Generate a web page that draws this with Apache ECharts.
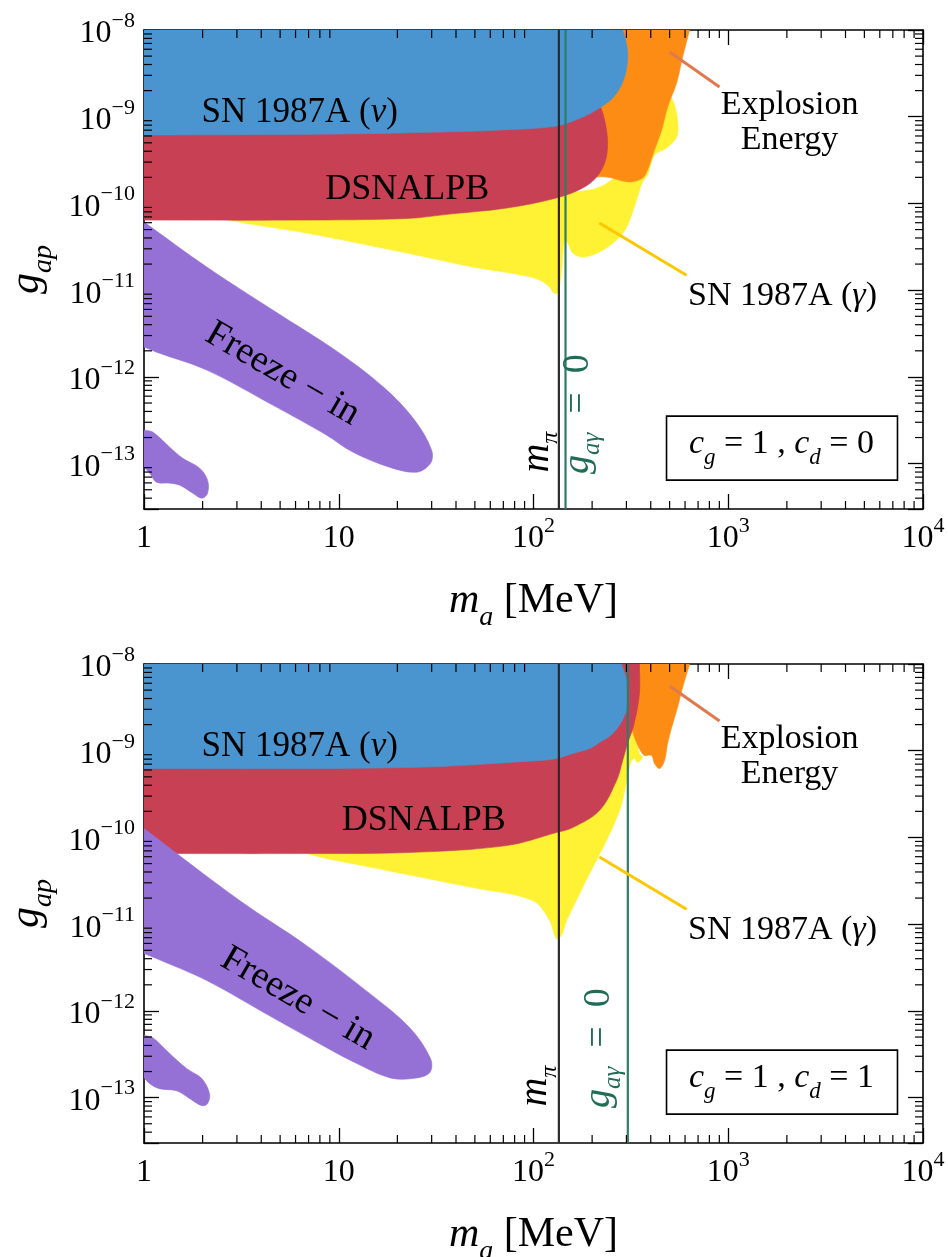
<!DOCTYPE html>
<html><head><meta charset="utf-8">
<script src="https://cdn.jsdelivr.net/npm/echarts@6/dist/echarts.min.js"></script>
<style>html,body{margin:0;padding:0;background:#fff;overflow:hidden}#c{width:948px;height:1257px}</style>
</head><body><div id="c"></div>
<script>
// ---------- axes ----------
const xRange = [1, 1e4];
const yRange = [3e-14, 1e-8];
const xMajorTicks = [1, 10, 100, 1000, 10000];
const yMajorTicks = [1e-13, 1e-12, 1e-11, 1e-10, 1e-9, 1e-8];
const minorMultipliers = [2, 3, 4, 5, 6, 7, 8, 9];
const xDecades = [1, 10, 100, 1000];
const yDecades = [1e-14, 1e-13, 1e-12, 1e-11, 1e-10, 1e-9];

// ---------- panel 1 : c_g = 1, c_d = 0 ----------
const topSnNu = [[1,1e-8],[287,1e-8],[301,6.71e-9],[304,4.51e-9],[290,2.65e-9],[258,1.69e-9],[218,1.26e-9],[179,9.92e-10],[131,7.81e-10],[67,7.02e-10],[33,6.66e-10],[10.1,6.32e-10],[1,6.15e-10]];
const topDsnalpb = [[1,8.02e-10],[20.5,8.02e-10],[136,9.66e-10],[213,1.36e-9],[224,1.195e-9],[237,7.02e-10],[240,4.47e-10],[232,2.92e-10],[211,2.02e-10],[179,1.51e-10],[131,1.155e-10],[72.8,8.85e-11],[37.1,7.54e-11],[22.3,6.7e-11],[6.3,6.43e-11],[1,6.43e-11]];
const topExplosion = [[136,1e-8],[633,1e-8],[583,4.88e-9],[543,2.45e-9],[488,1.29e-9],[455,7.02e-10],[418,4.13e-10],[385,2.43e-10],[363,1.96e-10],[311,1.77e-10],[237,2.02e-10],[194,1.96e-10],[163,1.63e-10],[136,4.13e-10]];
const topSnGamma = [[2.69,7.35e-11],[194,1.43e-10],[350,4.13e-10],[444,1.56e-9],[482,1.78e-9],[518,1.56e-9],[549,9.16e-10],[543,5.83e-10],[482,4.36e-10],[418,3.61e-10],[385,2.13e-10],[363,1.77e-10],[338,1.09e-10],[301,5.34e-11],[267,3.78e-11],[218,2.75e-11],[179,2.41e-11],[159,2.68e-11],[150,3.49e-11],[144,3.78e-11],[139,1.575e-11],[133,9.26e-12],[127,9.26e-12],[121,1.086e-11],[107.5,1.31e-11],[87.9,1.49e-11],[48.7,1.85e-11],[22.3,2.68e-11],[6.84,4.56e-11],[2.75,6.43e-11]];
const topFreezeIn = [[1,6.10e-11],[2.10,1.85e-11],[4.58,5.90e-12],[10.1,1.88e-12],[17.2,7.43e-13],[24.5,3.18e-13],[30.0,1.43e-13],[29.6,1.01e-13],[25.2,7.98e-14],[18.2,9.11e-14],[11.8,1.36e-13],[8.67,2.13e-13],[4.58,4.73e-13],[2.10,1.20e-12],[1.16,1.93e-12],[1,2.21e-12]];
const topFreezeInLow = [[1,2.43e-13],[1.11,2.31e-13],[1.355,1.55e-13],[1.58,1.157e-13],[1.93,8.87e-14],[2.12,6.45e-14],[2.12,4.57e-14],[1.98,4.0e-14],[1.78,4.57e-14],[1.525,5.65e-14],[1.355,5.96e-14],[1.16,6.12e-14],[1.07,7.77e-14],[1,9.11e-14]];
const topPionMass = 135;
const topGagZero = 146;

// ---------- panel 2 : c_g = 1, c_d = 1 ----------
const botSnNu = [[1,1e-8],[283,1e-8],[301,6.45e-9],[304,4.11e-9],[294,2.55e-9],[255,1.58e-9],[218,1.243e-9],[194,1.06e-9],[159,9.28e-10],[131,8.13e-10],[107.5,7.71e-10],[22.3,6.40e-10],[1,6.23e-10]];
const botDsnalpb = [[1,7.71e-10],[107.5,9.53e-10],[218,3.79e-9],[277,1e-8],[350,1e-8],[350,4.57e-9],[327,1.95e-9],[304,1.21e-9],[287,7.71e-10],[267,4.53e-10],[218,2.04e-10],[159,1.30e-10],[131,1.139e-10],[72.8,8.06e-11],[22.3,6.69e-11],[6.84,6.52e-11],[1,6.52e-11]];
const botExplosion = [[311,1e-8],[633,1e-8],[583,5.36e-9],[549,3.15e-9],[512,1.85e-9],[488,1.21e-9],[471,7.71e-10],[444,6.23e-10],[418,7.11e-10],[404,8.80e-10],[372,8.80e-10],[359,9.53e-10],[338,1.243e-9],[323,1.71e-9],[311,3.79e-9]];
const botSnGamma = [[6.30,7.85e-11],[107.5,1.139e-10],[218,3.47e-10],[311,1.80e-9],[323,1.71e-9],[350,9.28e-10],[363,8.35e-10],[342,7.31e-10],[330,8.13e-10],[319,7.71e-10],[308,5.91e-10],[294,3.47e-10],[277,2.04e-10],[237,9.21e-11],[194,3.83e-11],[166,1.87e-11],[148,1.10e-11],[139,7.39e-12],[131,6.82e-12],[121,1.10e-11],[98.9,1.87e-11],[48.7,2.64e-11],[14.9,4.50e-11],[6.84,6.52e-11]];
const botFreezeIn = [[1,1.267e-10],[3.10,1.87e-11],[6.84,5.66e-12],[14.9,1.50e-12],[23.1,6.42e-13],[29.6,2.82e-13],[29.3,1.94e-13],[23.9,1.66e-13],[18.2,1.70e-13],[12.4,2.47e-13],[8.67,3.77e-13],[4.58,8.37e-13],[2.10,2.24e-12],[1.16,4.01e-12],[1,4.58e-12]];
const botFreezeInLow = [[1,5.19e-13],[1.11,4.92e-13],[1.355,3.22e-13],[1.66,2.16e-13],[1.98,1.66e-13],[2.17,1.11e-13],[2.12,8.53e-14],[1.98,8.09e-14],[1.72,9.74e-14],[1.47,1.20e-13],[1.20,1.27e-13],[1.07,1.45e-13],[1,1.70e-13]];
const botPionMass = 135;
const botGagZero = 305;

// leader lines (same in both panels)
const explosionLeader = [[500,5.57e-9],[902,2.20e-9]];
const gammaLeader = [[218,5.94e-11],[611,1.49e-11]];

const couplings = [{cg: 1, cd: 0}, {cg: 1, cd: 1}];

// ---------- styles / layout ----------
const FONT = '"Liberation Serif","DejaVu Serif","Times New Roman",serif';
const COL = {blue:'#4a95cf', red:'#c84053', orange:'#fd8c14', yellow:'#fff133', purple:'#9571d6',
  pion:'#2b2b2b', gag:'#2e7d67', gagText:'#1f6d55', expLine:'#e0794c', gamLine:'#fbc800'};

const annot = [
  {snNu:[6.3,1.10e-9], dsnalpb:[22.5,1.43e-10], explosion:[2065,8.57e-10], snGamma:[1900,8.55e-12],
   freeze:[5.15,1.08e-12], mPi:[108,1.36e-13], gZero:[178,3.72e-13], box:[[482,3.53e-13],[7396,6.45e-14]], boxText:[1875,1.51e-13]},
  {snNu:[6.3,1.10e-9], dsnalpb:[27.3,1.57e-10], explosion:[2065,8.5e-10], snGamma:[1900,8.55e-12],
   freeze:[6.16,1.38e-12], mPi:[106,1.36e-13], gZero:[228,3.72e-13], box:[[482,3.53e-13],[7396,6.45e-14]], boxText:[1875,1.51e-13]}
];

const panels = [
  {nu:topSnNu, ds:topDsnalpb, ex:topExplosion, ga:topSnGamma, fr:topFreezeIn, fr2:topFreezeInLow, mpi:topPionMass, g0:topGagZero},
  {nu:botSnNu, ds:botDsnalpb, ex:botExplosion, ga:botSnGamma, fr:botFreezeIn, fr2:botFreezeInLow, mpi:botPionMass, g0:botGagZero}
];

const xMinor = [], yMinor = [];
xDecades.forEach(d => minorMultipliers.forEach(m => xMinor.push(d*m)));
yDecades.forEach(d => minorMultipliers.forEach(m => { const v = d*m; if (v > yRange[0]*1.001 && v < yRange[1]) yMinor.push(v); }));

function isPow10(v){ const l = Math.log10(v); return Math.abs(l - Math.round(l)) < 1e-6; }
const labelRich = {
  b: {fontFamily: FONT, fontSize: 32, lineHeight: 40, verticalAlign: 'bottom', color: '#000'},
  s: {fontFamily: FONT, fontSize: 22, lineHeight: 22, verticalAlign: 'top', color: '#000'}
};
function fmtX(v){ if (!isPow10(v)) return ''; const e = Math.round(Math.log10(v)); if (e===0) return '{b|1}'; if (e===1) return '{b|10}'; return '{b|10}{s|' + e + '}'; }
function fmtY(v){ if (!isPow10(v)) return ''; const e = Math.round(Math.log10(v)); return '{b|10}{s|' + String(e).replace('-', '\u2212') + '}'; }

const grids = [
  {left:144, top:30, width:779, height:479, containLabel:false, outerBoundsMode:'none'},
  {left:144, top:664, width:779, height:479, containLabel:false, outerBoundsMode:'none'}
];

const xAxes = [], yAxes = [];
const axisLineStyle = {color:'#000', width:1.6};
grids.forEach((g, gi) => {
  [ 'bottom', 'top' ].forEach(pos => xAxes.push({
    type:'log', logBase:10, gridIndex:gi, position:pos, min:xRange[0], max:xRange[1],
    axisLine:{show:true, onZero:false, lineStyle:axisLineStyle},
    axisTick:{show:true, inside:true, length:15, lineStyle:{color:'#000', width:1.3}},
    splitLine:{show:false},
    axisLabel:{show: pos==='bottom', formatter: fmtX, margin: 6, rich: labelRich},
    name: pos==='bottom' ? '{i|m}{sub|a}{r| [MeV]}' : '',
    nameLocation:'middle', nameGap: 71,
    nameTextStyle:{rich:{
      i:{fontFamily:FONT, fontStyle:'italic', fontSize:42, lineHeight:52, verticalAlign:'top', color:'#000'},
      sub:{fontFamily:FONT, fontStyle:'italic', fontSize:28, lineHeight:26, verticalAlign:'bottom', color:'#000'},
      r:{fontFamily:FONT, fontSize:42, lineHeight:52, verticalAlign:'top', color:'#000'}}}
  }));
  [ 'left', 'right' ].forEach(pos => yAxes.push({
    type:'log', logBase:10, gridIndex:gi, position:pos, min:yRange[0], max:yRange[1],
    axisLine:{show:true, onZero:false, lineStyle:axisLineStyle},
    axisTick:{show:true, inside:true, length:15, lineStyle:{color:'#000', width:1.3}},
    splitLine:{show:false},
    axisLabel:{show: pos==='left', formatter: fmtY, margin: 9, rich: labelRich},
    name: pos==='left' ? '{i|g}{sub|ap}' : '',
    nameLocation:'middle', nameGap: 86,
    nameTextStyle:{rich:{
      i:{fontFamily:FONT, fontStyle:'italic', fontSize:42, lineHeight:52, verticalAlign:'top', color:'#000'},
      sub:{fontFamily:FONT, fontStyle:'italic', fontSize:28, lineHeight:26, verticalAlign:'bottom', color:'#000'}}}
  }));
});

const series = [];
function axisIdx(gi){ return {xAxisIndex: gi*2, yAxisIndex: gi*2}; }
function onFrame(p){
  return Math.abs(p[0]-xRange[0]) < 1e-9 || Math.abs(p[0]-xRange[1]) < 1e-6 ||
         Math.abs(p[1]/yRange[1]-1) < 1e-6 || Math.abs(p[1]/yRange[0]-1) < 1e-6;
}
function poly(pts, color, gi){
  series.push(Object.assign({type:'custom', clip:true, silent:true, data: pts,
    renderItem: (params, api) => {
      if (params.dataIndex !== 0) return null;
      const px = [];
      pts.forEach(p => { const c = api.coord(p); px.push(c); if (onFrame(p)) px.push([c[0], c[1]]); });
      return {type:'polygon', shape:{points: px, smooth: 0.35},
        style:{fill: color, stroke: color, lineWidth: 0.6}};
    }}, axisIdx(gi)));
}
function vline(v, color, gi){
  series.push(Object.assign({type:'custom', clip:true, silent:true, data:[[v, yRange[0]]],
    renderItem: (params, api) => { const a = api.coord([v, yRange[0]]), b = api.coord([v, yRange[1]]);
      return {type:'line', shape:{x1:a[0], y1:a[1], x2:b[0], y2:b[1]}, style:{stroke:color, lineWidth:2.2}}; }}, axisIdx(gi)));
}
function seg(pts, color, gi){
  series.push(Object.assign({type:'custom', clip:true, silent:true, data: pts,
    renderItem: (params, api) => { if (params.dataIndex !== 0) return null; const a = api.coord(pts[0]), b = api.coord(pts[1]);
      return {type:'line', shape:{x1:a[0], y1:a[1], x2:b[0], y2:b[1]}, style:{stroke:color, lineWidth:3}}; }}, axisIdx(gi)));
}
function text(pos, txt, gi, opt){
  series.push(Object.assign({type:'custom', clip:false, silent:true, data:[pos],
    renderItem: (params, api) => { const p = api.coord(pos);
      return {type:'text', x:p[0], y:p[1], rotation: opt.rotation || 0, z2: 10,
        style:{text: txt, fill: opt.color || '#000', fontFamily: FONT, fontSize: opt.size, fontStyle: opt.italic ? 'italic' : 'normal',
          align:'center', verticalAlign:'middle', lineHeight: opt.lineHeight, rich: opt.rich}}; }}, axisIdx(gi)));
}
function box(corners, gi){
  series.push(Object.assign({type:'custom', clip:false, silent:true, data: corners,
    renderItem: (params, api) => { if (params.dataIndex !== 0) return null; const a = api.coord(corners[0]), b = api.coord(corners[1]);
      return {type:'rect', shape:{x:a[0], y:a[1], width:b[0]-a[0], height:b[1]-a[1]}, style:{fill:'#fff', stroke:'#000', lineWidth:1.6}}; }}, axisIdx(gi)));
}
function minorTicks(gi){
  series.push(Object.assign({type:'custom', clip:false, silent:true, data: xMinor.map(v => [v, yRange[0]]),
    renderItem: (params, api) => { const v = api.value(0); const a = api.coord([v, yRange[0]]), b = api.coord([v, yRange[1]]);
      const st = {stroke:'#000', lineWidth:1.2};
      return {type:'group', children:[
        {type:'line', shape:{x1:a[0], y1:a[1], x2:a[0], y2:a[1]-8}, style:st},
        {type:'line', shape:{x1:b[0], y1:b[1], x2:b[0], y2:b[1]+8}, style:st}]}; }}, axisIdx(gi)));
  series.push(Object.assign({type:'custom', clip:false, silent:true, data: yMinor.map(v => [xRange[0], v]),
    renderItem: (params, api) => { const v = api.value(1); const a = api.coord([xRange[0], v]), b = api.coord([xRange[1], v]);
      const st = {stroke:'#000', lineWidth:1.2};
      return {type:'group', children:[
        {type:'line', shape:{x1:a[0], y1:a[1], x2:a[0]+8, y2:a[1]}, style:st},
        {type:'line', shape:{x1:b[0], y1:b[1], x2:b[0]-8, y2:b[1]}, style:st}]}; }}, axisIdx(gi)));
}

const subRich = (size, subScale, drop) => {
  const ss = Math.round(size*(subScale || 0.68));
  const lh = size + (drop || 8);
  return {
    i:{fontFamily:FONT, fontStyle:'italic', fontSize:size, lineHeight:lh, verticalAlign:'top'},
    u:{fontFamily:FONT, fontSize:size, lineHeight:lh, verticalAlign:'top'},
    sub:{fontFamily:FONT, fontStyle:'italic', fontSize:ss, lineHeight:ss, verticalAlign:'bottom'},
    subu:{fontFamily:FONT, fontSize:ss, lineHeight:ss, verticalAlign:'bottom'}
  };
};

panels.forEach((P, gi) => {
  const A = annot[gi];
  poly(P.ga, COL.yellow, gi);
  poly(P.ex, COL.orange, gi);
  poly(P.ds, COL.red, gi);
  poly(P.nu, COL.blue, gi);
  poly(P.fr, COL.purple, gi);
  poly(P.fr2, COL.purple, gi);
  vline(P.mpi, COL.pion, gi);
  vline(P.g0, COL.gag, gi);
  seg(explosionLeader, COL.expLine, gi);
  seg(gammaLeader, COL.gamLine, gi);
  minorTicks(gi);
  text(A.snNu, 'SN 1987A ({i|\u03bd})', gi, {size:35, rich:{i:{fontFamily:FONT, fontStyle:'italic', fontSize:35}}});
  text(A.dsnalpb, 'DSNALPB', gi, {size:36});
  text(A.explosion, 'Explosion\nEnergy', gi, {size:34, lineHeight:35});
  text(A.snGamma, 'SN 1987A ({i|\u03b3})', gi, {size:34, rich:{i:{fontFamily:FONT, fontStyle:'italic', fontSize:34}}});
  text(A.freeze, 'Freeze \u2212 in', gi, {size:38, rotation:-Math.PI/6});
  text(A.mPi, '{i|m}{sub|\u03c0}', gi, {size:40, rotation:Math.PI/2, rich:subRich(40, 0.6, 6)});
  text(A.gZero, '{i|g}{sub|a\u03b3}{u|  =  0}', gi, {size:38, rotation:Math.PI/2, color:COL.gagText, rich:subRich(38, 0.66, 8)});
  box(A.box, gi);
  const c = couplings[gi];
  text(A.boxText, '{i|c}{sub|g}{u| = ' + c.cg + ' , }{i|c}{sub|d}{u| = ' + c.cd + '}', gi, {size:34, rich:subRich(34)});
});

const chart = echarts.init(document.getElementById('c'), null, {renderer:'canvas', width:948, height:1257});
chart.setOption({
  animation:false, backgroundColor:'#fff',
  grid: grids, xAxis: xAxes, yAxis: yAxes, series: series
});
</script></body></html>
